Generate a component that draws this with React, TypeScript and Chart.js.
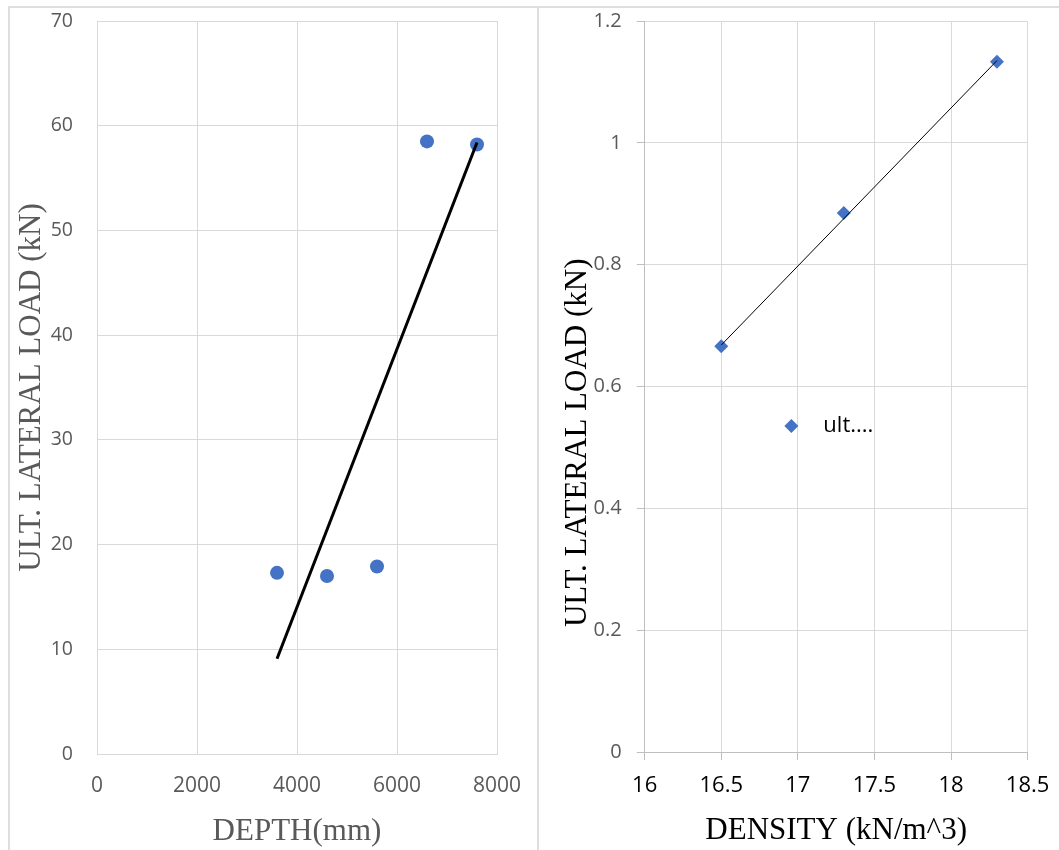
import React, { useEffect, useRef } from "react";
import { Chart, registerables } from "chart.js";

Chart.register(...registerables);

// ---- Left chart: depth vs ultimate lateral load ----
const DEPTH_X = [3600, 4600, 5600, 6600, 7600];
const DEPTH_LOAD = [17.3, 17.0, 17.9, 58.5, 58.2];
const DEPTH_TREND_X = [3600, 7600];
const DEPTH_TREND_Y = [9.1, 58.4];
const DEPTH_X_TICKS = [0, 2000, 4000, 6000, 8000];
const DEPTH_Y_TICKS = [0, 10, 20, 30, 40, 50, 60, 70];
const DEPTH_X_TITLE = "DEPTH(mm)";
const LOAD_TITLE = "ULT. LATERAL LOAD (kN)";

// ---- Right chart: density vs ultimate lateral load ----
const DENSITY_X = [16.5, 17.3, 18.3];
const DENSITY_LOAD = [0.666, 0.885, 1.133];
const DENSITY_TREND_X = [16.5, 18.3];
const DENSITY_TREND_Y = [0.668, 1.135];
const DENSITY_X_TICKS = [16, 16.5, 17, 17.5, 18, 18.5];
const DENSITY_Y_TICKS = [0, 0.2, 0.4, 0.6, 0.8, 1, 1.2];
const DENSITY_X_TITLE = "DENSITY (kN/m^3)";
const LEGEND_LABEL = "ult....";

const BLUE = "#4472C4";
const GRID = "#d9d9d9";
const TICK_COLOR = "#595959";
const SANS = "'Open Sans', sans-serif";
const titleFont = { family: "'Liberation Serif', 'Times New Roman', serif", size: 31 };

const zip = (xs: number[], ys: number[]) => xs.map((x, i) => ({ x, y: ys[i] }));
const fixedTicks = (vals: number[]) => (s: any) => {
  s.ticks = vals.map((v) => ({ value: v }));
};
const fmt = (v: any) => String(+Number(v).toFixed(3));
const fitY = (w: number) => (s: any) => {
  s.width = w;
  s.paddingTop = 0;
  s.paddingBottom = 0;
};
const fitX = (h: number) => (s: any) => {
  s.height = h;
  s.paddingLeft = 0;
  s.paddingRight = 0;
};

const densityOverlay = {
  id: "densityOverlay",
  afterDraw(chart: any) {
    const { ctx, chartArea: ca } = chart;
    const w = ca.right - ca.left;
    const h = ca.bottom - ca.top;
    // rotated y-axis title (offset downward as in the reference)
    ctx.save();
    ctx.translate(ca.left - 66.5, ca.top + h * 0.577);
    ctx.rotate(-Math.PI / 2);
    ctx.font = `${titleFont.size}px ${titleFont.family}`;
    ctx.fillStyle = "#000";
    ctx.textAlign = "center";
    ctx.textBaseline = "middle";
    ctx.fillText(LOAD_TITLE, 0, 0);
    ctx.restore();
    // legend inside plot area
    const mx = ca.left + w * 0.383;
    const my = ca.top + h * 0.554;
    const r = 7;
    ctx.save();
    ctx.beginPath();
    ctx.moveTo(mx, my - r);
    ctx.lineTo(mx + r, my);
    ctx.lineTo(mx, my + r);
    ctx.lineTo(mx - r, my);
    ctx.closePath();
    ctx.fillStyle = BLUE;
    ctx.fill();
    ctx.font = `22px ${SANS}`;
    ctx.fillStyle = "#000";
    ctx.textAlign = "left";
    ctx.textBaseline = "middle";
    ctx.fillText(LEGEND_LABEL, mx + 32, my);
    ctx.restore();
  },
};

export default function App() {
  const refA = useRef<HTMLCanvasElement>(null);
  const refB = useRef<HTMLCanvasElement>(null);

  useEffect(() => {
    const chartA = new Chart(refA.current as HTMLCanvasElement, {
      type: "scatter",
      data: {
        datasets: [
          {
            label: "Linear trend",
            data: zip(DEPTH_TREND_X, DEPTH_TREND_Y),
            showLine: true,
            borderColor: "#000",
            borderWidth: 3,
            pointRadius: 0,
            order: 0,
          },
          {
            label: "ULT. LATERAL LOAD",
            data: zip(DEPTH_X, DEPTH_LOAD),
            backgroundColor: BLUE,
            borderColor: BLUE,
            borderWidth: 0,
            pointRadius: 7,
            order: 1,
          },
        ],
      } as any,
      options: {
        animation: false,
        responsive: false,
        layout: { padding: { left: 0, top: 21, right: 41, bottom: 0 } },
        plugins: { legend: { display: false }, tooltip: { enabled: false } },
        scales: {
          x: {
            type: "linear",
            min: 0,
            max: 8000,
            afterBuildTicks: fixedTicks(DEPTH_X_TICKS),
            afterFit: fitX(96),
            grid: { color: GRID, drawTicks: false },
            border: { color: GRID },
            ticks: { font: { family: SANS, size: 21 }, color: TICK_COLOR, padding: 19, maxRotation: 0, autoSkip: false, callback: fmt },
            title: { display: true, text: DEPTH_X_TITLE, font: titleFont, color: TICK_COLOR, padding: { top: 0, bottom: 0 } },
          },
          y: {
            type: "linear",
            min: 0,
            max: 70,
            afterBuildTicks: fixedTicks(DEPTH_Y_TICKS),
            afterFit: fitY(97),
            grid: { color: GRID, drawTicks: false },
            border: { color: GRID },
            ticks: { font: { family: SANS, size: 19.5 }, color: TICK_COLOR, padding: 24, autoSkip: false, callback: fmt },
            title: { display: true, text: LOAD_TITLE, font: titleFont, color: TICK_COLOR, padding: { top: 13, bottom: 0 } },
          },
        },
      } as any,
    });

    const chartB = new Chart(refB.current as HTMLCanvasElement, {
      type: "scatter",
      data: {
        datasets: [
          {
            label: "Linear trend",
            data: zip(DENSITY_TREND_X, DENSITY_TREND_Y),
            showLine: true,
            borderColor: "#000",
            borderWidth: 1,
            pointRadius: 0,
            order: 0,
          },
          {
            label: LEGEND_LABEL,
            data: zip(DENSITY_X, DENSITY_LOAD),
            backgroundColor: BLUE,
            borderColor: BLUE,
            borderWidth: 0,
            pointStyle: "rectRot",
            pointRadius: 7,
            order: 1,
          },
        ],
      } as any,
      options: {
        animation: false,
        responsive: false,
        layout: { padding: { left: 0, top: 21, right: 31.4, bottom: 0 } },
        plugins: { legend: { display: false }, tooltip: { enabled: false } },
        scales: {
          x: {
            type: "linear",
            min: 16,
            max: 18.5,
            afterBuildTicks: fixedTicks(DENSITY_X_TICKS),
            afterFit: fitX(98),
            grid: { color: GRID, drawTicks: true, tickLength: 8, tickColor: "#bfbfbf" },
            border: { color: "#bfbfbf" },
            ticks: { font: { family: SANS, size: 22 }, color: "#000", padding: 13, maxRotation: 0, autoSkip: false, callback: fmt },
            title: { display: true, text: DENSITY_X_TITLE, font: titleFont, color: "#000", padding: { top: 0, bottom: 1 } },
          },
          y: {
            type: "linear",
            min: 0,
            max: 1.2,
            afterBuildTicks: fixedTicks(DENSITY_Y_TICKS),
            afterFit: fitY(106.7),
            grid: { color: GRID, drawTicks: true, tickLength: 8, tickColor: "#bfbfbf" },
            border: { color: "#bfbfbf" },
            ticks: { font: { family: SANS, size: 20 }, color: TICK_COLOR, padding: 15, autoSkip: false, callback: fmt },
            title: { display: false },
          },
        },
      } as any,
      plugins: [densityOverlay],
    });

    return () => {
      chartA.destroy();
      chartB.destroy();
    };
  }, []);

  return (
    <div style={{ position: "absolute", left: 0, top: 0, width: 1059, height: 850, background: "#fff", overflow: "hidden" }}>
      <div style={{ position: "absolute", left: 8, top: 6, width: 1051, height: 2, background: "#dedede" }} />
      <div style={{ position: "absolute", left: 8, top: 6, width: 2, height: 844, background: "#dedede" }} />
      <div style={{ position: "absolute", left: 537, top: 6, width: 2, height: 844, background: "#dedede" }} />
      <canvas ref={refA} width={538} height={850} style={{ position: "absolute", left: 0, top: 0 }} />
      <canvas ref={refB} width={521} height={850} style={{ position: "absolute", left: 538, top: 0 }} />
    </div>
  );
}
